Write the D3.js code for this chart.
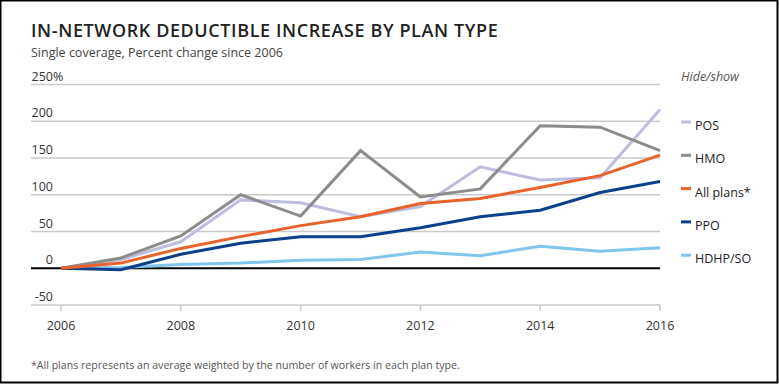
<!DOCTYPE html>
<html lang="en">
<head>
  <meta charset="UTF-8">
  <title>In-network deductible increase by plan type</title>
  <script src="https://d3js.org/d3.v7.min.js"></script>
  <style>
    body { margin: 0; background: #fff; }
    svg text { font-family: "Open Sans", "Noto Sans", sans-serif; }
  </style>
</head>
<body>
<div id="chart"></div>
<script>
  // data
  const years = [2006, 2007, 2008, 2009, 2010, 2011, 2012, 2013, 2014, 2015, 2016];
  const pos     = [0, 12, 36, 93, 89, 70, 84, 138, 120, 123, 216];
  const hmo     = [0, 14, 44, 100, 71, 160, 97, 108, 194, 192, 160];
  const allPlans = [0, 7, 27, 43, 58, 70, 88, 95, 110, 126, 154];
  const ppo     = [0, -2, 19, 34, 43, 43, 55, 70, 79, 103, 118];
  const hdhp    = [0, 1, 5, 7, 11, 12, 22, 17, 30, 23, 28];
  const yTicks = [-50, 0, 50, 100, 150, 200, 250];
  const xTicks = [2006, 2008, 2010, 2012, 2014, 2016];

  const seriesList = [
    { name: "POS", values: pos, color: "#bdbde0" },
    { name: "HMO", values: hmo, color: "#8c8c8c" },
    { name: "All plans*", values: allPlans, color: "#e9622b" },
    { name: "PPO", values: ppo, color: "#0d3f8b" },
    { name: "HDHP/SO", values: hdhp, color: "#82c5ea" }
  ];
  const drawOrder = ["POS", "HMO", "HDHP/SO", "PPO", "All plans*"];

  const W = 779, H = 384;
  const svg = d3.select("#chart").append("svg")
    .attr("width", W).attr("height", H);

  // frame
  svg.append("rect")
    .attr("x", 0.5).attr("y", 0.5)
    .attr("width", W - 2).attr("height", H - 2)
    .attr("fill", "none").attr("stroke", "#000").attr("stroke-width", 2);

  svg.append("text")
    .attr("x", 31).attr("y", 37)
    .attr("font-size", 18).attr("font-weight", 600).attr("fill", "#222")
    .attr("letter-spacing", 0.6)
    .text("IN-NETWORK DEDUCTIBLE INCREASE BY PLAN TYPE");

  svg.append("text")
    .attr("x", 31).attr("y", 57)
    .attr("font-size", 12.5).attr("fill", "#444")
    .text("Single coverage, Percent change since 2006");

  const x = d3.scaleLinear().domain([2006, 2016]).range([61, 660]);
  const y = d3.scaleLinear().domain([-50, 250]).range([305, 84.5]);

  const grid = svg.append("g");
  yTicks.forEach(t => {
    grid.append("line")
      .attr("x1", 31).attr("x2", 660)
      .attr("y1", y(t)).attr("y2", y(t))
      .attr("stroke", t === 0 ? "#000" : "#c9c9c9")
      .attr("stroke-width", t === 0 ? 2 : 1.5);
    grid.append("text")
      .attr("x", 53).attr("y", y(t) - 4)
      .attr("text-anchor", "end")
      .attr("font-size", 12.5).attr("fill", "#333")
      .text(t);
  });
  grid.append("text")
    .attr("x", 53).attr("y", y(250) - 4)
    .attr("font-size", 12.5).attr("fill", "#333")
    .text("%");

  // bottom ticks + year labels
  xTicks.forEach(t => {
    grid.append("line")
      .attr("x1", x(t)).attr("x2", x(t))
      .attr("y1", y(-50)).attr("y2", y(-50) + 6)
      .attr("stroke", "#c9c9c9").attr("stroke-width", 1.5);
    grid.append("text")
      .attr("x", x(t)).attr("y", 330)
      .attr("text-anchor", "middle")
      .attr("font-size", 12.5).attr("fill", "#333")
      .text(t);
  });

  const line = d3.line()
    .x((d, i) => x(years[i]))
    .y(d => y(d));

  drawOrder.forEach(n => {
    const s = seriesList.find(d => d.name === n);
    svg.append("path")
      .datum(s.values)
      .attr("d", line)
      .attr("fill", "none")
      .attr("stroke", s.color)
      .attr("stroke-width", 3)
      .attr("stroke-linejoin", "miter");
  });

  // legend
  const legend = svg.append("g");
  legend.append("text")
    .attr("x", 681).attr("y", 81)
    .attr("font-size", 12.5).attr("font-style", "italic").attr("fill", "#555")
    .text("Hide/show");
  seriesList.forEach((s, i) => {
    const cy = 125 + i * 33.3;
    legend.append("line")
      .attr("x1", 681).attr("x2", 691)
      .attr("y1", cy - 3).attr("y2", cy - 3)
      .attr("stroke", s.color).attr("stroke-width", 3);
    legend.append("text")
      .attr("x", 695).attr("y", cy + 5)
      .attr("font-size", 12.5).attr("font-weight", 500).attr("fill", "#222")
      .text(s.name);
  });

  svg.append("text")
    .attr("x", 31).attr("y", 369)
    .attr("font-size", 10.6).attr("fill", "#555")
    .text("*All plans represents an average weighted by the number of workers in each plan type.");
</script>
</body>
</html>
